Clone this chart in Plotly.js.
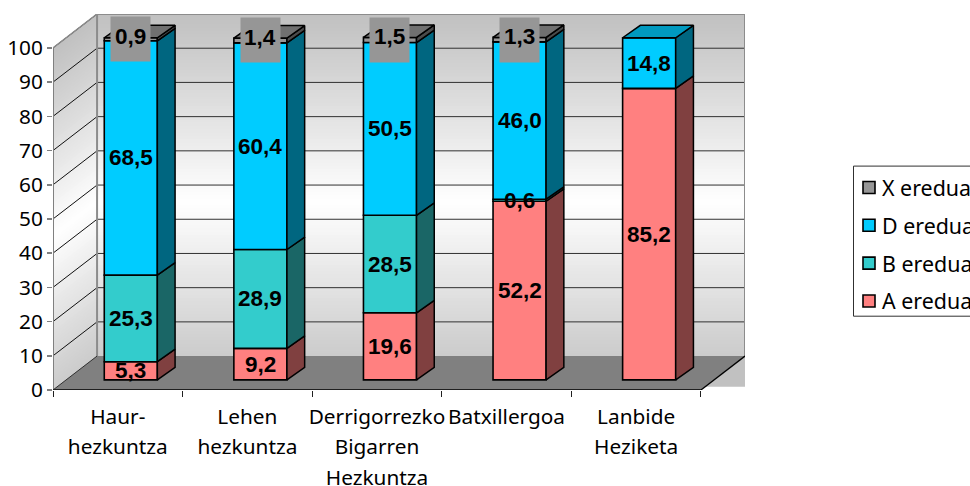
<!DOCTYPE html>
<html><head><meta charset="utf-8">
<script src="https://cdn.plot.ly/plotly-3.0.1.min.js"></script>
<style>html,body{margin:0;padding:0;background:#fff;overflow:hidden}</style>
</head><body><div id="chart" style="width:970px;height:486px"></div>
<script>
// ---- data ----
const categories = ["Haur-<br>hezkuntza","Lehen<br>hezkuntza","Derrigorrezko<br>Bigarren<br>Hezkuntza","Batxillergoa","Lanbide<br>Heziketa"];
const seriesNames = ["A eredua","B eredua","D eredua","X eredua"];
const aValues = [5.3, 9.2, 19.6, 52.2, 85.2];
const bValues = [25.3, 28.9, 28.5, 0.6, 0];
const dValues = [68.5, 60.4, 50.5, 46.0, 14.8];
const xValues = [0.9, 1.4, 1.5, 1.3, 0];
const yTicks = [0,10,20,30,40,50,60,70,80,90,100];
// ---- style / geometry ----
const frontColors = ["#FF8080","#33CCCC","#00CCFF","#969696"];
const sideColors  = ["#804040","#1A6666","#006680","#4B4B4B"];
const topColors   = ["#BF6060","#269999","#0099BF","#707070"];
const pxPerX = 129.4, pxPerY = 3.43;
const wallDX = 44/pxPerX, wallDY = 34/pxPerY;       // depth of the floor
const barDX = 13/pxPerX, barDY = 10.2/pxPerY;       // front of bars behind the axis plane
const sideDX = 17.7/pxPerX, sideDY = 12.5/pxPerY;   // depth of a bar
const barW = 53/pxPerX;
const nCat = categories.length;
const xMax = nCat + wallDX, yMax = 100 + wallDY;
const all = [aValues,bValues,dValues,xValues];

// wall shading + floor + gridlines
const shapes = [];
function wallShade(f){ const k = Math.abs(f-0.5)*2; const v = Math.round(255 - k*(255-192)); return `rgb(${v},${v},${v})`; }
const bands = 114;
for(let b=0;b<bands;b++){
  const f = b/bands, c = wallShade(f+0.5/bands), yT = yMax*(1-f);
  shapes.push({type:'rect',layer:'below',xref:'x',yref:'y',x0:wallDX,x1:xMax,y0:wallDY,y1:yT,fillcolor:c,line:{width:0}});
  const yF = yT-wallDY;
  if(yF>0) shapes.push({type:'path',layer:'below',xref:'x',yref:'y',path:`M0,${yF}L${wallDX},${yT}L${wallDX},${wallDY}L0,0Z`,fillcolor:c,line:{width:0}});
}
shapes.push({type:'path',layer:'below',xref:'x',yref:'y',path:`M0,0L${nCat},0L${xMax},${wallDY}L${wallDX},${wallDY}Z`,fillcolor:'#808080',line:{width:0}});
for(const t of yTicks){
  if(t>0) shapes.push({type:'line',layer:'below',xref:'x',yref:'y',x0:wallDX,x1:xMax,y0:t+wallDY,y1:t+wallDY,line:{color:'#303030',width:1}});
  if(t>0) shapes.push({type:'line',layer:'below',xref:'x',yref:'y',x0:0,x1:wallDX,y0:t,y1:t+wallDY,line:{color:'#101010',width:1}});
}
const wallEdge = {color:'#8C8C8C',width:2};
shapes.push({type:'path',layer:'below',xref:'x',yref:'y',path:`M${wallDX},${wallDY}L${wallDX},${yMax}L${xMax},${yMax}L${xMax},${wallDY}`,line:wallEdge});
shapes.push({type:'line',layer:'below',xref:'x',yref:'y',x0:0,x1:wallDX,y0:100,y1:yMax,line:{color:'#8C8C8C',width:1.5}});
shapes.push({type:'line',layer:'below',xref:'x',yref:'y',x0:0,x1:0,y0:0,y1:100,line:{color:'#808080',width:2}});
shapes.push({type:'line',layer:'below',xref:'x',yref:'y',x0:0,x1:wallDX,y0:0,y1:wallDY,line:{color:'#303030',width:1}});
shapes.push({type:'line',layer:'below',xref:'x',yref:'y',x0:nCat,x1:xMax,y0:0,y1:wallDY,line:{color:'#000',width:1.3}});
shapes.push({type:'line',layer:'below',xref:'x',yref:'y',x0:0,x1:nCat,y0:0,y1:0,line:{color:'#202020',width:2}});

const centers = categories.map((_,i)=>i+0.5+barDX);
const traces = [];
const annotations = [];
const cum = categories.map(()=>0);
const topIndex = categories.map((_,i)=>{let k=0;all.forEach((s,j)=>{if(s[i]>0)k=j;});return k;});
const overlays = [];
const dataFont = {family:'"Liberation Sans",Arial,sans-serif',size:22.5,color:'#000'};
all.forEach((vals,s)=>{
  const bases = cum.map(c=>c+barDY);
  traces.push({type:'bar',name:seriesNames[s],legendgroup:seriesNames[s],legendrank:4-s,x:centers,y:vals,base:bases,width:barW,
    marker:{color:frontColors[s],line:{color:'#000',width:1.6}},hoverinfo:'skip'});
  const sx=[],sy=[],tx=[],ty=[];
  vals.forEach((v,i)=>{
    const xr=centers[i]+barW/2, xl=centers[i]-barW/2, y0=bases[i], y1=bases[i]+v;
    if(v>0){
      sx.push(xr,xr+sideDX,xr+sideDX,xr,xr,null); sy.push(y0,y0+sideDY,y1+sideDY,y1,y0,null);
      if(topIndex[i]===s){ tx.push(xl,xl+sideDX,xr+sideDX,xr,xl,null); ty.push(y1,y1+sideDY,y1+sideDY,y1,y1,null); }
      const txt=v.toFixed(1).replace('.',',');
      const a={xref:'x',yref:'y',x:centers[i],y:y0+v/2,text:'<b>'+txt+'</b>',showarrow:false,font:dataFont};
      if(s===3){
        annotations.push({xref:'x',yref:'y',x:centers[i],y:y0+v/2,text:'\u00A0',showarrow:false,font:dataFont,
          bgcolor:frontColors[3],width:39,height:44,borderpad:0});
        a.yshift=3;
      }
      annotations.push(a);
    }
  });
  overlays.push({type:'scatter',mode:'lines',x:sx,y:sy,fill:'toself',fillcolor:sideColors[s],line:{color:'#000',width:1.5},showlegend:false,hoverinfo:'skip'});
  if(tx.length) overlays.push({type:'scatter',mode:'lines',x:tx,y:ty,fill:'toself',fillcolor:topColors[s],line:{color:'#000',width:1.5},showlegend:false,hoverinfo:'skip'});
  vals.forEach((v,i)=>cum[i]+=v);
});

const labelFont = {family:'"Noto Sans",Tahoma,sans-serif',size:20.8,color:'#000'};
const layout = {
  width:970,height:486,paper_bgcolor:'#fff',plot_bgcolor:'rgba(0,0,0,0)',
  margin:{l:53,r:225,t:13.5,b:95.5,pad:0,autoexpand:false},
  barmode:'overlay',showlegend:true,
  xaxis:{range:[0,xMax],tickmode:'array',tickvals:categories.map((_,i)=>i+0.5),ticktext:categories,
    ticks:'',tickfont:labelFont,showgrid:false,zeroline:false,showline:false,tickangle:0,ticklabelstandoff:12,
    minor:{tickmode:'array',tickvals:[0,1,2,3,4,5],ticks:'outside',ticklen:6,tickcolor:'#202020',tickwidth:1,showgrid:false}},
  yaxis:{range:[0,yMax],tickmode:'array',tickvals:yTicks,ticks:'outside',ticklen:5,tickcolor:'#808080',tickwidth:1.5,
    tickfont:labelFont,showgrid:false,zeroline:false,showline:false},
  legend:{x:(849-53)/692,xanchor:'left',y:1-(167-13.5)/377,yanchor:'top',traceorder:'grouped',tracegroupgap:7,
    font:{family:labelFont.family,size:21.4,color:'#000'},bgcolor:'rgba(0,0,0,0)',borderwidth:0,itemclick:false,itemdoubleclick:false},
  shapes:shapes.concat([{type:'rect',xref:'paper',yref:'paper',layer:'above',
    x0:(853.5-53)/692,x1:(990-53)/692,y0:1-(316.5-13.5)/377,y1:1-(166-13.5)/377,line:{color:'#303030',width:1}}]),
  annotations:annotations,hovermode:false
};
Plotly.newPlot('chart',traces.concat(overlays),layout,{displayModeBar:false,staticPlot:true}).then(()=>{
  document.querySelectorAll('.xtick text').forEach(t=>{
    t.querySelectorAll('tspan.line').forEach((l,i)=>l.setAttribute('dy',(i*1.46)+'em'));
  });
  document.querySelectorAll('.legendtext').forEach(t=>{
    t.setAttribute('x',parseFloat(t.getAttribute('x'))-7);
  });
});
</script></body></html>
